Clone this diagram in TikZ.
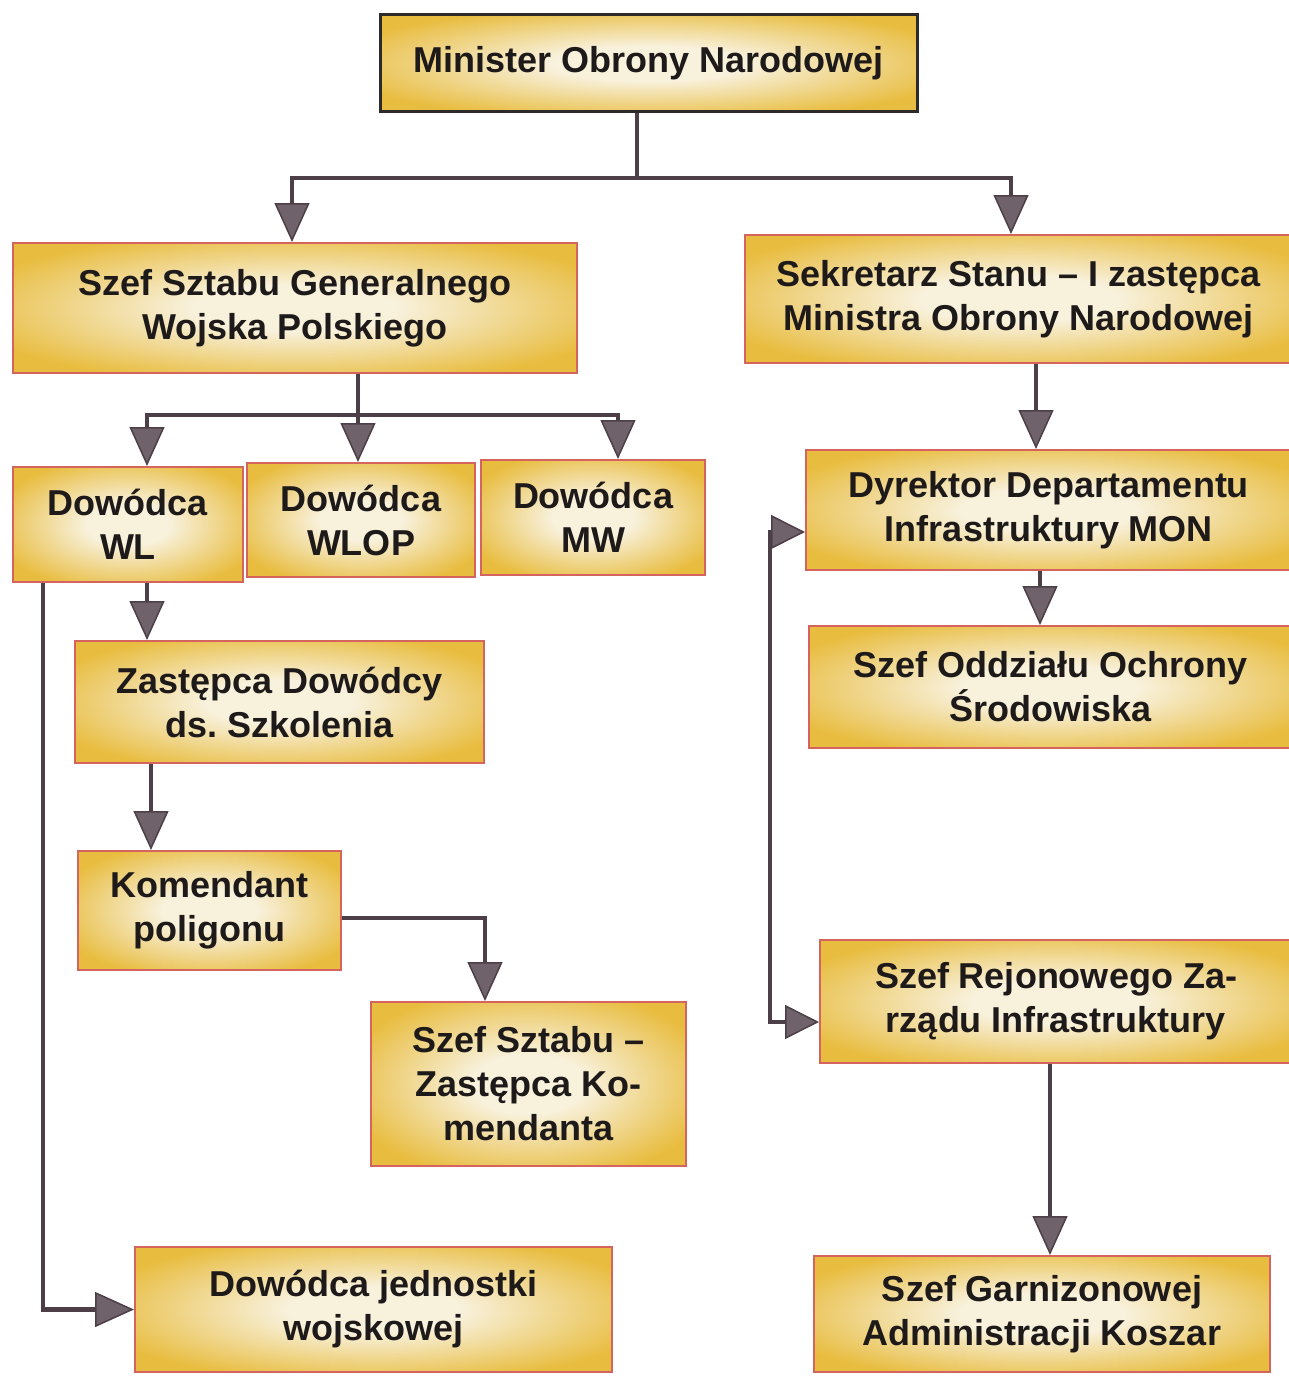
\documentclass[tikz,border=0pt]{standalone}
\usepackage{fontspec}
\setmainfont{Liberation Sans}
\usetikzlibrary{arrows.meta}
\definecolor{linec}{HTML}{4D3F47}
\definecolor{headc}{HTML}{6F626B}
\definecolor{boxborder}{HTML}{D6645E}
\definecolor{darkborder}{HTML}{2E2A2A}
\definecolor{boxouter}{HTML}{E8BC3E}
\definecolor{boxinner}{HTML}{F8F1DC}
\definecolor{txtc}{HTML}{1E1A1A}
\pgfdeclareradialshading{boxshade}{\pgfpoint{0bp}{0bp}}{color(0bp)=(boxinner); color(9bp)=(boxinner); color(30bp)=(boxouter); color(50bp)=(boxouter)}
\frenchspacing
\tikzset{
  box/.style={draw=boxborder, line width=2pt, shading=boxshade, inner sep=0pt,
    align=center, text=txtc, font=\bfseries\fontsize{36}{44}\selectfont},
  ln/.style={draw=linec, line width=4.5pt},
  arr/.style={ln, -{Triangle[width=35pt,length=39pt,fill=headc,line width=1.5pt 0 1]}},
  arrtwo/.style={ln, {Triangle[width=34pt,length=34pt,fill=headc,line width=1.5pt 0 1]}-{Triangle[width=34pt,length=34pt,fill=headc,line width=1.5pt 0 1]}},
}
\begin{document}
\begin{tikzpicture}[x=1pt,y=-1pt]
\useasboundingbox (0,0) rectangle (1289,1378);
\clip (0,0) rectangle (1289,1378);
\fill[white] (0,0) rectangle (1289,1378);

% boxes
\node[box, draw=darkborder, line width=3pt, minimum width=537pt, minimum height=97pt] (min) at (648.5,63.5) {Minister Obrony Narodowej};
\node[box, minimum width=564pt, minimum height=130pt] (ssg) at (295,308) {Szef Sztabu Generalnego\\Wojska Polskiego};
\node[box, minimum width=547pt, minimum height=128pt] (sek) at (1018.5,299) {Sekretarz Stanu -- I zastępca\\Ministra Obrony Narodowej};
\node[box, minimum width=230pt, minimum height=115pt] (wl) at (128,524.5) {Dowódca\\WL};
\node[box, minimum width=228pt, minimum height=114pt] (wlop) at (361,520) {Dowódca\\WLOP};
\node[box, minimum width=224pt, minimum height=115pt] (mw) at (593,517.5) {Dowódca\\MW};
\node[box, minimum width=486pt, minimum height=120pt] (dyr) at (1049,510) {Dyrektor Departamentu\\Infrastruktury MON};
\node[box, minimum width=483pt, minimum height=122pt] (ooch) at (1050.5,687) {Szef Oddziału Ochrony\\Środowiska};
\node[box, minimum width=409pt, minimum height=122pt] (zds) at (279.5,702) {Zastępca Dowódcy\\ds. Szkolenia};
\node[box, minimum width=263pt, minimum height=119pt] (kom) at (209.5,910.5) {Komendant\\poligonu};
\node[box, minimum width=315pt, minimum height=164pt] (szk) at (528.5,1084) {Szef Sztabu --\\Zastępca Ko-\\mendanta};
\node[box, minimum width=472pt, minimum height=123pt] (rej) at (1056,1001.5) {Szef Rejonowego Za-\\rządu Infrastruktury};
\node[box, minimum width=477pt, minimum height=125pt] (djw) at (373.5,1309.5) {Dowódca jednostki\\wojskowej};
\node[box, minimum width=456pt, minimum height=116pt] (sgak) at (1042,1314) {Szef Garnizonowej\\Administracji Koszar};

% helper coordinates
\coordinate (j1) at (637,178);
\coordinate (j2) at (358,415);
\coordinate (xa) at (147,0);
\coordinate (xb) at (618,0);
\coordinate (xc) at (1036,0);
\coordinate (xd) at (1040,0);
\coordinate (xe) at (43,0);
\coordinate (xf) at (151,0);
\coordinate (xg) at (485,0);
\coordinate (xh) at (1050,0);
\coordinate (xi) at (292,0);
\coordinate (xj) at (1011,0);
\coordinate (yk) at (0,918);
\coordinate (va) at (770,532);
\coordinate (vb) at (770,1022);

% connectors
\draw[ln] (min.south -| j1) -- (j1);
\draw[arr] (j1) -| (ssg.north -| xi);
\draw[arr] (j1) -| (sek.north -| xj);

\draw[ln] (ssg.south -| j2) -- (j2);
\draw[arr] (j2) -- (wlop.north -| j2);
\draw[arr] (j2) -| (wl.north -| xa);
\draw[arr] (j2) -| (mw.north -| xb);

\draw[arr] (sek.south -| xc) -- (dyr.north -| xc);
\draw[arr] (dyr.south -| xd) -- (ooch.north -| xd);
\draw[arr] (wl.south -| xa) -- (zds.north -| xa);
\draw[arr] (wl.south -| xe) |- (djw.west);
\draw[arr] (zds.south -| xf) -- (kom.north -| xf);
\draw[arr] (kom.east |- yk) -| (szk.north -| xg);
\draw[arr] (rej.south -| xh) -- (sgak.north -| xh);
\draw[arrtwo] (dyr.west |- va) -- (va) -- (vb) -- (rej.west |- vb);
\end{tikzpicture}
\end{document}
